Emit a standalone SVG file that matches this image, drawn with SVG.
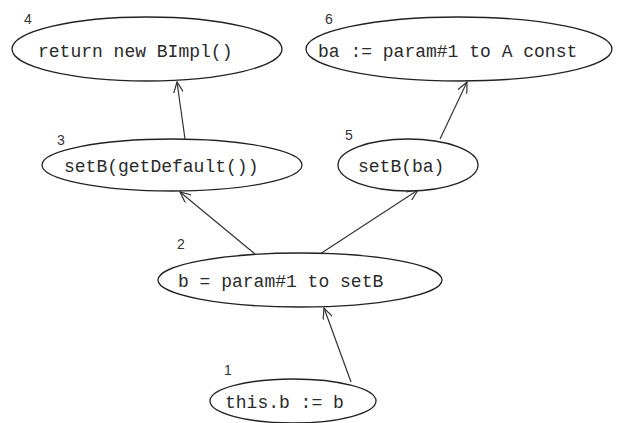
<svg xmlns="http://www.w3.org/2000/svg" width="630" height="423" viewBox="0 0 630 423">
<style>
.n ellipse{fill:#fff;stroke:#222;stroke-width:1.3}
.t{font-family:"Liberation Mono","DejaVu Sans Mono",monospace;font-size:18px;fill:#2a2a2a}
.l{font-family:"Liberation Sans","DejaVu Sans",sans-serif;font-size:14px;fill:#333}
.e line{stroke:#333;stroke-width:1.2;marker-end:url(#a)}
</style>
<defs>
<marker id="a" viewBox="0 0 12 10" refX="11" refY="5" markerWidth="12" markerHeight="10" markerUnits="userSpaceOnUse" orient="auto">
<path d="M0,0 L11,5 L0,10" fill="none" stroke="#333" stroke-width="1.2"/>
</marker>
</defs>
<rect width="630" height="423" fill="#fff"/>
<g class="e">
<line x1="351" y1="382" x2="324" y2="308"/>
<line x1="255" y1="254" x2="180" y2="192"/>
<line x1="320" y1="254" x2="418" y2="190"/>
<line x1="185" y1="139" x2="177" y2="82"/>
<line x1="440" y1="139" x2="467" y2="82"/>
</g>
<g id="n4" class="n"><ellipse cx="147" cy="49" rx="135" ry="32"/><text class="l" x="24" y="24">4</text><text class="t" x="38" y="57">return new BImpl()</text></g>
<g id="n6" class="n"><ellipse cx="459" cy="49" rx="153" ry="32"/><text class="l" x="325" y="24">6</text><text class="t" x="318" y="57">ba := param#1 to A const</text></g>
<g id="n3" class="n"><ellipse cx="172" cy="165" rx="130" ry="26"/><text class="l" x="57" y="145">3</text><text class="t" x="64" y="172">setB(getDefault())</text></g>
<g id="n5" class="n"><ellipse cx="408" cy="165" rx="70" ry="26"/><text class="l" x="345" y="140">5</text><text class="t" x="358" y="172">setB(ba)</text></g>
<g id="n2" class="n"><ellipse cx="300" cy="280" rx="142" ry="27"/><text class="l" x="177" y="249">2</text><text class="t" x="178" y="287">b = param#1 to setB</text></g>
<g id="n1" class="n"><ellipse cx="293" cy="401" rx="83" ry="22"/><text class="l" x="224" y="375">1</text><text class="t" x="225" y="408">this.b := b</text></g>
</svg>
